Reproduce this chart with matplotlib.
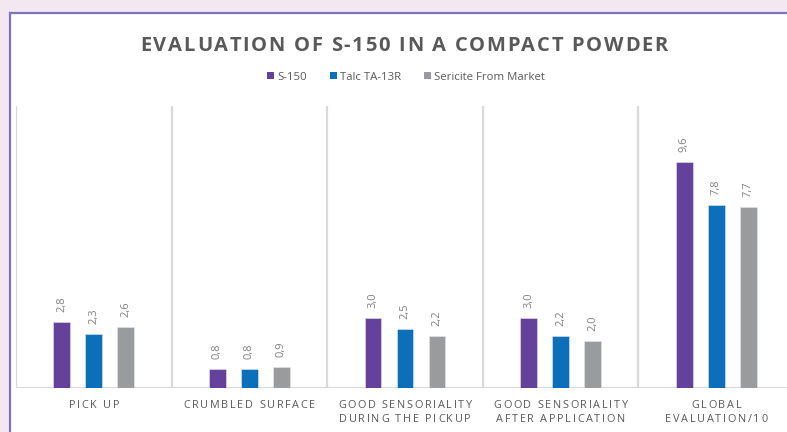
import matplotlib
matplotlib.use("Agg")
import matplotlib.pyplot as plt
from matplotlib.patches import Rectangle, Patch
from matplotlib.lines import Line2D
import numpy as np

categories = ["PICK UP", "CRUMBLED SURFACE", "GOOD SENSORIALITY\nDURING THE PICKUP",
              "GOOD SENSORIALITY\nAFTER APPLICATION", "GLOBAL\nEVALUATION/10"]
series_names = ["S-150", "Talc TA-13R", "Sericite From Market"]
s150 = [2.8, 0.8, 3.0, 3.0, 9.6]
talc = [2.3, 0.8, 2.5, 2.2, 7.8]
sericite = [2.6, 0.9, 2.2, 2.0, 7.7]
series_values = [s150, talc, sericite]
colors = ["#64419b", "#0b70b9", "#999b9c"]
title = "EVALUATION OF S-150 IN A COMPACT POWDER"

W, H = 787, 432
DPI = 100
plt.rcParams['font.family'] = ['Open Sans', 'DejaVu Sans']
fig = plt.figure(figsize=(W / DPI, H / DPI), dpi=DPI, facecolor="#f3e7f2")

# white panel and purple border
fig.patches.append(Rectangle((10 / W, 0), 1 - 10 / W, (H - 14) / H, transform=fig.transFigure,
                             facecolor="white", edgecolor="none", zorder=-3))
fig.lines.append(Line2D([9.5 / W, 9.5 / W], [0, (H - 13) / H], transform=fig.transFigure,
                        color="#7e72bd", lw=1.6, zorder=-2))
fig.lines.append(Line2D([9.5 / W, 1], [(H - 13) / H, (H - 13) / H], transform=fig.transFigure,
                        color="#7e72bd", lw=1.6, zorder=-2))

ax_left, ax_right = 16, 16 + 5 * 155.6
ax_bottom, ax_top = 388, 106
ax = fig.add_axes([ax_left / W, (H - ax_bottom) / H, (ax_right - ax_left) / W, (ax_bottom - ax_top) / H])
ax.set_facecolor("none")
ax.set_zorder(1)
ax.set_xlim(-0.5, 4.5)
ax.set_ylim(0, 12)
for s in ax.spines.values():
    s.set_visible(False)
ax.set_xticks([])
ax.set_yticks([])

# category separators and baseline
for b in np.arange(-0.5, 5.0, 1.0):
    ax.axvline(b, color="#d9d9d9", lw=1.6, zorder=1)
ax.axhline(0, color="#d9d9d9", lw=1.6, zorder=1)

x = np.arange(len(categories))
offset = 0.2057
width = 0.109
for i, (vals, c) in enumerate(zip(series_values, colors)):
    xs = x + (i - 1) * offset
    ax.bar(xs, vals, width=width, color=c, zorder=2, label=series_names[i],
           edgecolor="#e8e4f0", linewidth=0.4)
    for xi, v in zip(xs, vals):
        ax.annotate(f"{v:.1f}".replace(".", ","), (xi, v), xytext=(0, 10), textcoords="offset pixels",
                    rotation=90, ha="center", va="bottom", fontsize=8, color="#808080", zorder=3)

fig.canvas.draw()
renderer = fig.canvas.get_renderer()


def spaced_text(text, cx, baseline_y, size, spacing, color, weight="normal"):
    from matplotlib.font_manager import FontProperties
    prop = FontProperties(family=['Open Sans', 'DejaVu Sans'], size=size, weight=weight)
    widths = [renderer.get_text_width_height_descent(ch, prop, ismath=False)[0] if ch != " "
              else renderer.get_text_width_height_descent("a a", prop, ismath=False)[0]
              - renderer.get_text_width_height_descent("aa", prop, ismath=False)[0]
              for ch in text]
    total = sum(widths) + spacing * (len(text) - 1)
    xpos = cx - total / 2
    for ch, w in zip(text, widths):
        if ch != " ":
            fig.text(xpos / W, (H - baseline_y) / H, ch, fontproperties=prop, color=color,
                     ha="left", va="baseline")
        xpos += w + spacing


spaced_text(title, 404, 51, 14.5, 1.7, "#595959", weight="bold")

cat_spacing = 1.7
for i, cat in enumerate(categories):
    cx = ax_left + 155.6 * (i + 0.5)
    for j, line in enumerate(cat.split("\n")):
        spaced_text(line, cx, 408 + j * 14, 7.8, cat_spacing, "#595959")

handles = [Patch(facecolor=c, edgecolor="none") for c in colors]
fig.legend(handles, series_names, loc="center", bbox_to_anchor=(406 / W, (H - 77) / H), ncol=3,
           frameon=False, fontsize=8.2, handlelength=0.6, handleheight=0.6, handletextpad=0.3,
           columnspacing=2.0, labelcolor="#595959")

fig.savefig("out.png", dpi=DPI, facecolor=fig.get_facecolor())
